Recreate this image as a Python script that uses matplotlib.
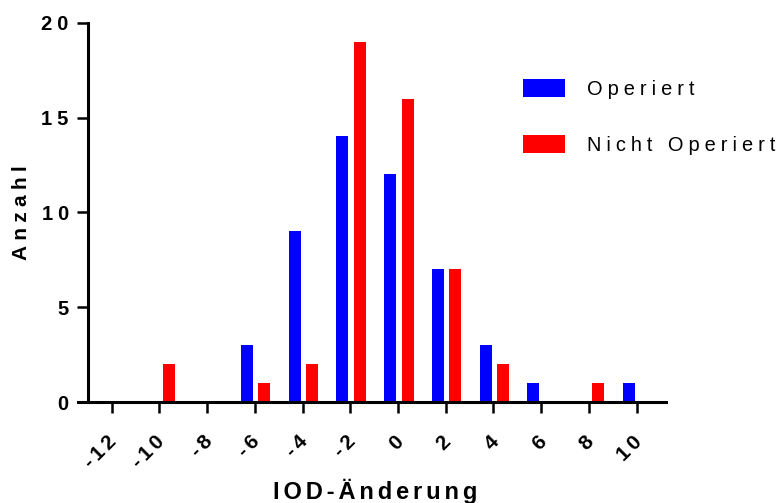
import matplotlib
matplotlib.use("Agg")
import matplotlib.pyplot as plt
import matplotlib.transforms as mtransforms
import numpy as np

# Histogram of IOD change (bin centres) for the two groups
bin_centers = [-12, -10, -8, -6, -4, -2, 0, 2, 4, 6, 8, 10]
operiert = [0, 0, 0, 3, 9, 14, 12, 7, 3, 1, 0, 1]
nicht_operiert = [0, 2, 0, 1, 2, 19, 16, 7, 2, 0, 1, 0]
x_tick_labels = ["-12", "-10", "-8", "-6", "-4", "-2", "0", "2", "4", "6", "8", "10"]
y_ticks = [0, 5, 10, 15, 20]
series_names = ["Operiert", "Nicht Operiert"]

FONT = "Liberation Sans"
SP4 = "\u2005"   # four-per-em space
SP6 = "\u2006"   # six-per-em space


def spaced(s, sep):
    return sep.join(s)


W, H, DPI = 782, 503, 100
fig = plt.figure(figsize=(W / DPI, H / DPI), dpi=DPI)

# axes rectangle in pixels (x-axis line runs 78..666, y from 0 at 402 to 20 at 22.7)
left_px, right_px = 78.3, 665.7
bottom_px, top_px = 402.0, 22.7
ax = fig.add_axes([left_px / W, 1 - bottom_px / H,
                   (right_px - left_px) / W, (bottom_px - top_px) / H])
ax.set_xlim(-13.40, 11.22)
ax.set_ylim(0, 20)

bar_w = 0.5
blue_off = -0.58
red_off = 0.15
xs = np.array(bin_centers, dtype=float)
b1 = ax.bar(xs + blue_off, operiert, width=bar_w, align="edge",
            color="#0000ff", linewidth=0, zorder=1)
b2 = ax.bar(xs + red_off, nicht_operiert, width=bar_w, align="edge",
            color="#ff0000", linewidth=0, zorder=1)

# Prism-like axes: offset y spine, no top/right
for s in ("top", "right"):
    ax.spines[s].set_visible(False)
ax.spines["left"].set_position(("data", -13))
ax.spines["left"].set_bounds(0, 20)
for s in ("left", "bottom"):
    ax.spines[s].set_linewidth(2.2)
    ax.spines[s].set_zorder(3)

ax.set_xticks(bin_centers)
ax.set_xticklabels([spaced(t, SP6) for t in x_tick_labels],
                   rotation=45, ha="right", va="top",
                   fontfamily=FONT, fontweight="bold", fontsize=15)
ax.set_yticks(y_ticks)
ax.set_yticklabels([spaced(str(t), SP4) for t in y_ticks],
                   fontfamily=FONT, fontweight="bold", fontsize=14.5)
ax.tick_params(axis="both", direction="out", length=7.7, width=1.8, color="black")
ax.tick_params(axis="y", pad=6.0)
ax.tick_params(axis="x", pad=14)

shift = mtransforms.ScaledTranslation(9 / DPI, 0, fig.dpi_scale_trans)
for lbl in ax.get_xticklabels():
    lbl.set_transform(lbl.get_transform() + shift)

fig.text(375 / W, 1 - 491 / H, spaced("IOD-Änderung", SP6),
         ha="center", va="center", fontfamily=FONT, fontweight="bold",
         fontsize=17)
fig.text(22 / W, 1 - 213 / H, spaced("Anzahl", SP4),
         ha="center", va="center", rotation=90, fontfamily=FONT,
         fontweight="bold", fontsize=15)

leg = ax.legend([b1, b2], [spaced(n, SP4) for n in series_names],
                loc="upper left", bbox_to_anchor=(523 / W, 1 - 79 / H),
                bbox_transform=fig.transFigure, frameon=False,
                prop={"family": FONT, "size": 14.4},
                handlelength=2.1, handleheight=1.0, handletextpad=1.1,
                labelspacing=1.8, borderpad=0, borderaxespad=0)

fig.savefig("out.png", dpi=DPI)
